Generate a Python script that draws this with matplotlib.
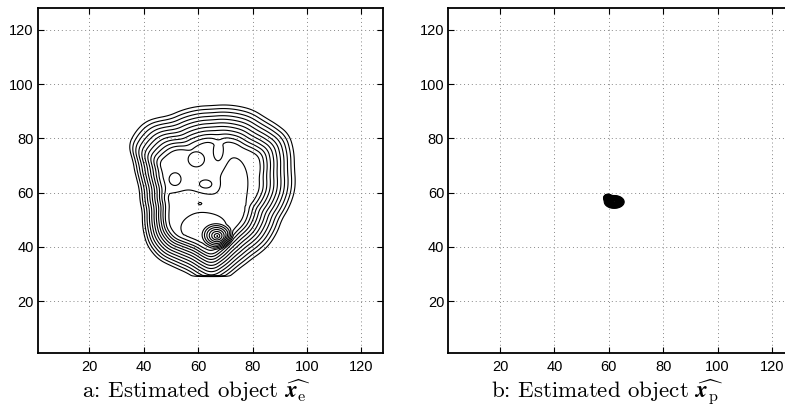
import numpy as np
import matplotlib.pyplot as plt

plt.rcParams['mathtext.fontset'] = 'cm'
plt.rcParams['font.family'] = ['Liberation Sans', 'DejaVu Sans']

# ---- panel a: estimated object x_e (contour map) ----
# outline of the object, radius from the centre at each angle (deg)
centre_a = (65.0, 61.0)
outline_angle = [0, 15, 28, 36, 53, 63, 90, 120, 134, 143, 152, 159, 172, 180,
                 198, 221, 232, 244, 254, 270, 289, 300, 316, 330, 337]
outline_radius = [31.1, 32.0, 34.4, 35.6, 33.8, 33.8, 31.7, 32.2, 35.8, 36.0, 35.3, 31.5, 28.2, 27.0,
                  27.2, 31.8, 32.7, 32.1, 32.4, 36.0, 31.2, 29.9, 29.8, 29.0, 28.5]
# width of the outer ring band at each angle
ramp_angle = [0, 60, 90, 140, 165, 190, 240, 270, 330]
ramp_width = [13.0, 14.0, 13.0, 15.0, 10.0, 9.0, 11.0, 12.0, 13.0]
ramp_steps = 10       # number of outer rings
step_width = 2.0      # inner step (first interior contour)
step_height = 1.2
cut_y = 29.5          # object is cut off below this row

# interior bumps / dips (x, y, sx, sy, height in contour steps)
blob_x = [59.3, 51.5, 62.8, 67.5, 60.7, 62.0, 73.0, 55.0]
blob_y = [72.3, 64.9, 63.1, 75.5, 56.0, 47.0, 64.0, 57.5]
blob_sx = [2.7, 2.0, 2.3, 1.6, 0.5, 9.0, 3.5, 5.0]
blob_sy = [2.5, 2.2, 1.5, 3.5, 0.35, 6.0, 6.0, 2.2]
blob_h = [-1.3, -1.3, -1.3, -1.4, 0.8, 2.0, 0.9, 0.8]

# sharp peak
peak_xy = (67.0, 44.0)
peak_rx = 6.0
peak_ry = 5.0
peak_height = 7.0

# ---- panel b: estimated object x_p (small compact blob) ----
blob_b_x = [62.0, 59.6]
blob_b_y = [56.6, 58.2]
blob_b_sx = [1.7, 0.7]
blob_b_sy = [1.1, 0.6]
blob_b_h = [1.0, 0.8]

ticks = [20, 40, 60, 80, 100, 120]


def gauss(X, Y, x0, y0, sx, sy):
    return np.exp(-0.5 * (((X - x0) / sx) ** 2 + ((Y - y0) / sy) ** 2))


def circ_smooth(v, n):
    h = n // 2
    w = np.ones(n) / n
    return np.convolve(np.concatenate([v[-h:], v, v[:h]]), w, mode='valid')


# smooth outline radius and ring width (1-degree samples)
th = np.arange(0, 360)
r_th = circ_smooth(np.interp(th, outline_angle, outline_radius, period=360), 9)
w_th = circ_smooth(np.interp(th, ramp_angle, ramp_width, period=360), 21)

# field for panel a
xs = np.arange(1, 128.5, 0.5)
X, Y = np.meshgrid(xs, xs)
dx = X - centre_a[0]
dy = Y - centre_a[1]
rho = np.hypot(dx, dy)
theta = np.degrees(np.arctan2(dy, dx)) % 360
R = np.interp(theta, th, r_th, period=360)
W = np.interp(theta, th, w_th, period=360)
d = R - rho
F = np.clip(d / W, 0, 1) * ramp_steps
F = F + np.clip((d - W) / step_width, 0, 1) * step_height
inside = np.clip(d / W, 0, 1)
for i in range(len(blob_x)):
    F = F + blob_h[i] * gauss(X, Y, blob_x[i], blob_y[i], blob_sx[i], blob_sy[i]) * inside
rp = np.hypot((X - peak_xy[0]) / peak_rx, (Y - peak_xy[1]) / peak_ry)
F = F + peak_height * np.clip(1 - rp, 0, 1)
F[Y < cut_y] = 0
levels_a = np.arange(0.5, 25, 1.0)

# field for panel b
xb = np.arange(50, 75, 0.1)
XB, YB = np.meshgrid(xb, xb)
FB = np.zeros_like(XB)
for i in range(len(blob_b_x)):
    FB = FB + blob_b_h[i] * gauss(XB, YB, blob_b_x[i], blob_b_y[i], blob_b_sx[i], blob_b_sy[i])
levels_b = np.linspace(0.1, 1.0, 30)

fig = plt.figure(figsize=(7.85, 4.08), dpi=100)
ax_a = fig.add_axes([37.7 / 785, 1 - 352.7 / 408, 345.5 / 785, 344.4 / 408])
ax_b = fig.add_axes([448.3 / 785, 1 - 352.7 / 408, 345.5 / 785, 344.4 / 408])

ax_a.contour(X, Y, F, levels=levels_a, colors='k', linewidths=0.8)
ax_b.contour(XB, YB, FB, levels=levels_b, colors='k', linewidths=0.8)

for ax in (ax_a, ax_b):
    ax.set_xlim(1, 128)
    ax.set_ylim(1, 128)
    ax.set_xticks(ticks)
    ax.set_yticks(ticks)
    ax.set_axisbelow(True)
    ax.grid(True, linestyle=(0, (1, 3)), color='#888888', linewidth=0.7)
    ax.tick_params(direction='in', length=4, width=0.8, top=True, right=True,
                   labelsize=10.5, pad=3)
    ax.tick_params(axis='x', pad=5.5)
    for s in ax.spines.values():
        s.set_linewidth(1.3)

fig.text(196 / 785, 1 - 398.5 / 408,
         r'a: Estimated object $\widehat{\mathbfit{x}_{\mathrm{e}}}$',
         family='cmr10', ha='center', va='baseline', fontsize=16.5)
fig.text(606.7 / 785, 1 - 398.5 / 408,
         r'b: Estimated object $\widehat{\mathbfit{x}_{\mathrm{p}}}$',
         family='cmr10', ha='center', va='baseline', fontsize=16.5)

fig.savefig('out.png', dpi=100)
